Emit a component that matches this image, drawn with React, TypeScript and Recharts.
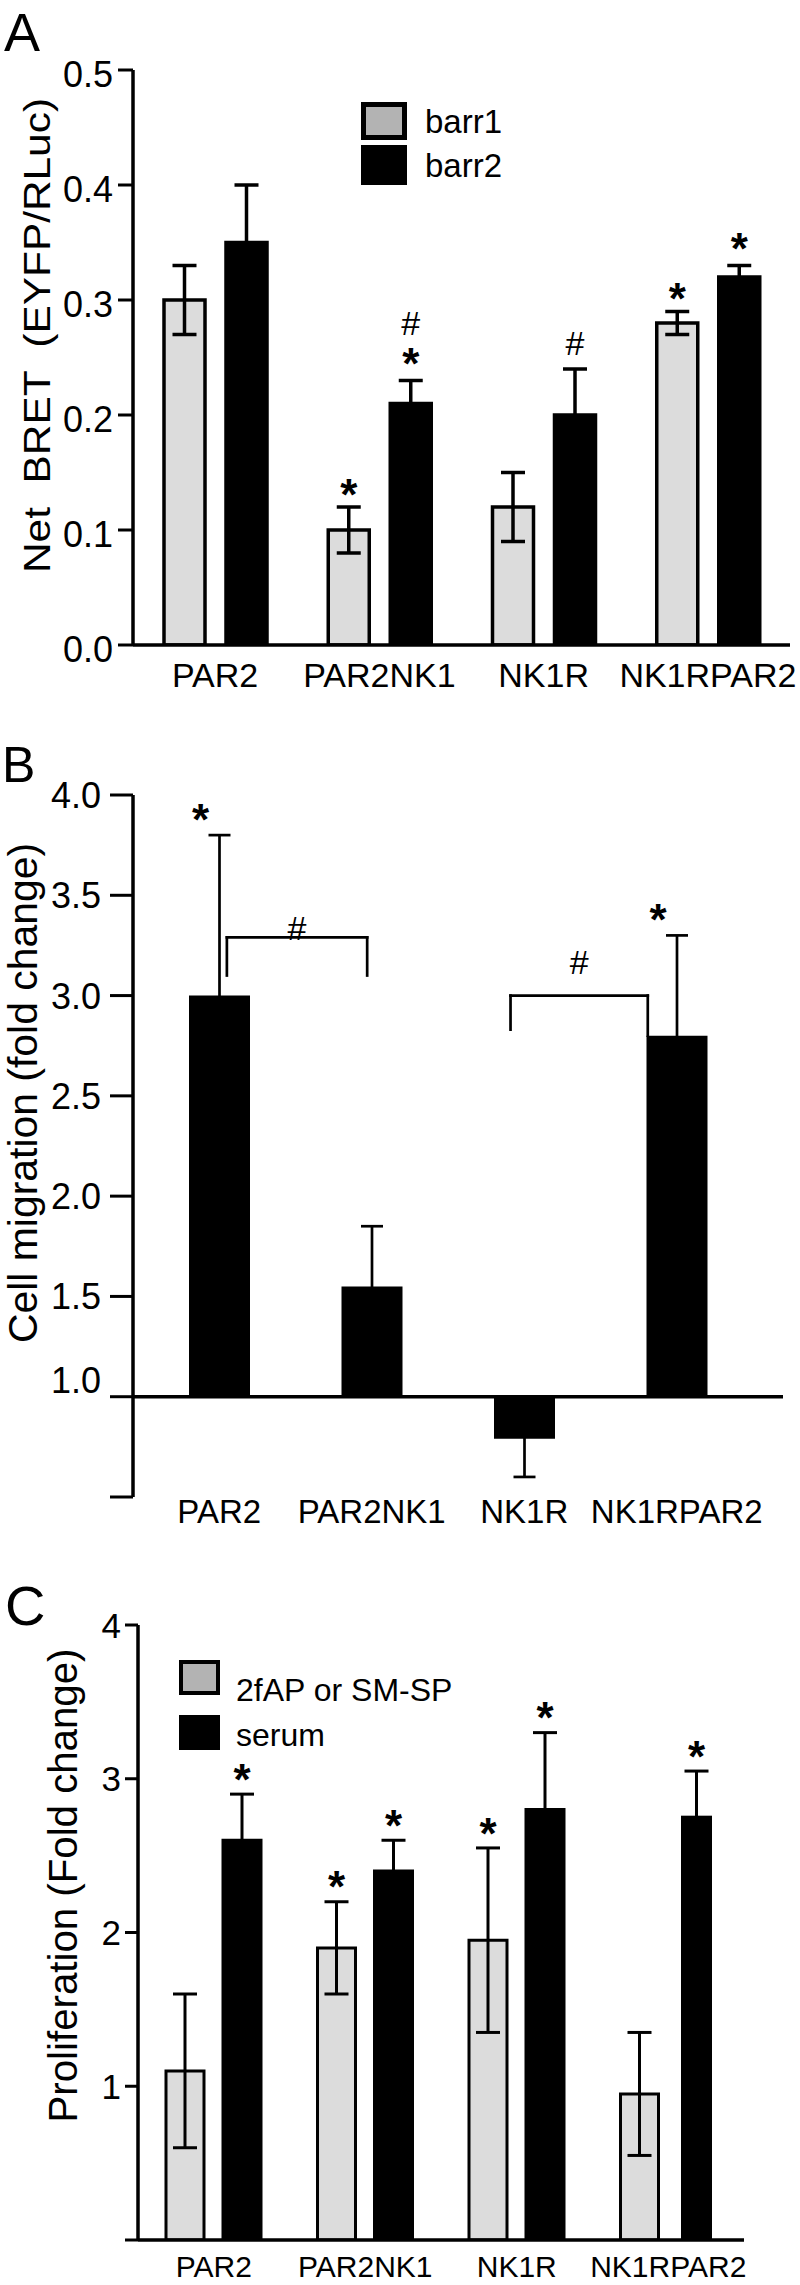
import React from "react";
import {
  BarChart,
  Bar,
  XAxis,
  YAxis,
  ErrorBar,
  LabelList,
  Legend,
  ReferenceLine,
  ReferenceDot,
} from "recharts";

const FONT = '"Liberation Sans", Arial, Helvetica, sans-serif';
const BAR_GRAY = "#dcdcdc";
const SWATCH_GRAY = "#b3b3b3";

// ---- panel A: BRET ----
const bretGroups = ["PAR2", "PAR2NK1", "NK1R", "NK1RPAR2"];
const barr1 = [0.3, 0.1, 0.12, 0.28];
const barr1Err = [0.03, 0.02, 0.03, 0.01];
const barr2 = [0.35, 0.21, 0.2, 0.32];
const barr2Err = [0.05, 0.02, 0.04, 0.01];
const barr1Marks = ["", "*", "", "*"];
const barr2Marks = ["", "#*", "#", "*"];
const bretTicks = [0, 0.1, 0.2, 0.3, 0.4, 0.5];

// ---- panel B: migration ----
const migrationGroups = ["PAR2", "PAR2NK1", "NK1R", "NK1RPAR2"];
const migration = [3.0, 1.55, 0.79, 2.8];
const migrationErr = [0.8, 0.3, 0.19, 0.5];
const migrationMarks = ["*", "", "", "*"];
const migrationTicks = [0.5, 1, 1.5, 2, 2.5, 3, 3.5, 4];
// brackets in slot units (0..4 across the four groups)
const brackets = [
  { from: 0.55, to: 1.47, top: 3.29, leftEnd: 3.1, rightEnd: 3.1, hashAt: 3.34 },
  { from: 2.41, to: 3.31, top: 3.0, leftEnd: 2.83, rightEnd: 2.8, hashAt: 3.17 },
];

// ---- panel C: proliferation ----
const prolifGroups = ["PAR2", "PAR2NK1", "NK1R", "NK1RPAR2"];
const agonist = [1.1, 1.9, 1.95, 0.95];
const agonistErr = [0.5, 0.3, 0.6, 0.4];
const serum = [2.6, 2.4, 2.8, 2.75];
const serumErr = [0.3, 0.2, 0.5, 0.3];
const agonistMarks = ["", "*", "*", ""];
const serumMarks = ["*", "*", "*", "*"];
const prolifTicks = [0, 1, 2, 3, 4];

const bretData = bretGroups.map((name, i) => ({
  name,
  barr1: barr1[i],
  barr1Err: barr1Err[i],
  barr2: barr2[i],
  barr2Err: barr2Err[i],
}));

const migrationData = migrationGroups.map((name, i) => ({
  name,
  slot: i + 0.5,
  change: migration[i] - 1,
  err: migrationErr[i],
}));

const prolifData = prolifGroups.map((name, i) => ({
  name,
  agonist: agonist[i],
  agonistErr: agonistErr[i],
  serum: serum[i],
  serumErr: serumErr[i],
}));

const STAR_SIZE = 44;
const HASH_SIZE = 34;

function glyph(ch: string, cx: number, cy: number, key: number) {
  if (ch === "*") {
    return (
      <text key={key} x={cx} y={cy + STAR_SIZE * 0.56} textAnchor="middle" fontSize={STAR_SIZE} fontWeight="bold" fill="#000">
        *
      </text>
    );
  }
  return (
    <text key={key} x={cx} y={cy + HASH_SIZE * 0.36} textAnchor="middle" fontSize={HASH_SIZE} fill="#000">
      {ch}
    </text>
  );
}

// significance marks stacked above the error bar cap
function markLabel(
  names: string[],
  values: number[],
  errs: number[],
  symbols: string[],
  base: number,
  gap: number,
  step: number,
  dx = 0
) {
  return function MarkLabel(props: any) {
    const vb = props.viewBox || props;
    const i = names.indexOf(String(props.value));
    const sym = i >= 0 ? symbols[i] : "";
    if (!sym || !vb) return null;
    const v = values[i] - base;
    const px = Math.abs(vb.height / v);
    const top = Math.min(vb.y, vb.y + vb.height);
    const capY = top - errs[i] * px;
    const cx = vb.x + vb.width / 2 + dx;
    const chars = sym.split("").reverse();
    return <g>{chars.map((c, k) => glyph(c, cx, capY - gap - k * step, k))}</g>;
  };
}

function yTick(fontSize: number, fmt: (v: number) => string, hidden: string[], drop = 0, lift: Record<string, number> = {}) {
  return function Tick(p: any) {
    const label = fmt(p.payload.value);
    if (hidden.includes(label)) return <g />;
    return (
      <text x={p.x} y={p.y + fontSize * 0.36 + drop - (lift[label] || 0)} textAnchor="end" fontSize={fontSize} fill="#000">
        {label}
      </text>
    );
  };
}

function yTitle(text: string, fontSize: number, cx: number, shift: number, length: number) {
  return function Title(p: any) {
    const vb = p.viewBox || { x: 0, y: 0, width: 0, height: 0 };
    const cy = vb.y + vb.height / 2 + shift;
    return (
      <text
        x={cx}
        y={cy}
        transform={`rotate(-90 ${cx} ${cy})`}
        textAnchor="middle"
        dominantBaseline="central"
        fontSize={fontSize}
        fill="#000"
        textLength={length}
        lengthAdjust="spacingAndGlyphs"
        style={{ whiteSpace: "pre" }}
      >
        {text}
      </text>
    );
  };
}

function swatchLegend(
  names: string[],
  colors: string[],
  cfg: { boxW: number; boxH: number[]; border: number; rowGap: number; textGap: number; fontSize: number; textDrop: number[] }
) {
  return function LegendBox() {
    return (
      <div style={{ fontFamily: FONT, color: "#000" }}>
        {names.map((n, i) => (
          <div key={n} style={{ display: "flex", alignItems: "center", marginBottom: i === 0 ? cfg.rowGap : 0 }}>
            <div
              style={{
                width: cfg.boxW,
                height: cfg.boxH[i],
                boxSizing: "border-box",
                border: `${cfg.border}px solid #000`,
                background: colors[i],
              }}
            />
            <span
              style={{
                marginLeft: cfg.textGap,
                fontSize: cfg.fontSize,
                lineHeight: 1,
                position: "relative",
                top: cfg.textDrop[i],
                whiteSpace: "nowrap",
              }}
            >
              {n}
            </span>
          </div>
        ))}
      </div>
    );
  };
}

const axisLine = { stroke: "#000", strokeWidth: 3.5 };
const tickLine = { stroke: "#000", strokeWidth: 3 };

function BretChart() {
  return (
    <BarChart width={800} height={700} data={bretData} margin={{ top: 70, right: 10, bottom: 25, left: 0 }} barGap={21}>
      <XAxis
        dataKey="name"
        height={30}
        interval={0}
        tickLine={false}
        tickSize={0}
        tickMargin={18}
        axisLine={axisLine}
        tick={{ fontSize: 34, fill: "#000" }}
      />
      <YAxis
        width={133}
        domain={[0, 0.5]}
        ticks={bretTicks}
        interval={0}
        allowDataOverflow
        axisLine={axisLine}
        tickLine={tickLine}
        tickSize={15}
        tickMargin={5}
        tick={yTick(36, (v) => v.toFixed(1), [], 4)}
        label={yTitle("Net  BRET  (EYFP/RLuc)", 36, 37, -22, 475)}
      />
      <Legend
        layout="vertical"
        align="center"
        verticalAlign="middle"
        wrapperStyle={{ left: 361, top: 102 }}
        content={swatchLegend(["barr1", "barr2"], [SWATCH_GRAY, "#000"], {
          boxW: 46,
          boxH: [38, 40],
          border: 5,
          rowGap: 5,
          textGap: 18,
          fontSize: 33,
          textDrop: [0, 0],
        })}
      />
      <Bar dataKey="barr1" name="barr1" barSize={41} fill={BAR_GRAY} stroke="#000" strokeWidth={3.5} isAnimationActive={false}>
        <ErrorBar dataKey="barr1Err" width={12} stroke="#000" strokeWidth={3.5} isAnimationActive={false} />
        <LabelList dataKey="name" content={markLabel(bretGroups, barr1, barr1Err, barr1Marks, 0, 22, 32)} />
      </Bar>
      <Bar dataKey="barr2" name="barr2" barSize={41} fill="#000" stroke="#000" strokeWidth={3.5} isAnimationActive={false}>
        <ErrorBar dataKey="barr2Err" width={12} stroke="#000" strokeWidth={3.5} isAnimationActive={false} />
        <LabelList dataKey="name" content={markLabel(bretGroups, barr2, barr2Err, barr2Marks, 0, 26, 32)} />
      </Bar>
    </BarChart>
  );
}

function MigrationChart() {
  const pad = { left: 10, right: 30 };
  return (
    <BarChart width={800} height={830} data={migrationData} margin={{ top: 75, right: 17, bottom: 23, left: 0 }}>
      <XAxis
        dataKey="name"
        height={30}
        interval={0}
        padding={pad}
        axisLine={false}
        tickLine={false}
        tickSize={0}
        tickMargin={3}
        tick={{ fontSize: 33, fill: "#000" }}
      />
      <XAxis xAxisId="n" dataKey="slot" type="number" domain={[0, 4]} allowDataOverflow padding={pad} hide />
      <YAxis
        width={133}
        domain={[-0.5, 3]}
        ticks={migrationTicks.map((t) => t - 1)}
        interval={0}
        allowDataOverflow
        axisLine={axisLine}
        tickLine={tickLine}
        tickSize={23}
        tickMargin={9}
        tick={yTick(36, (v) => (v + 1).toFixed(1), ["0.5"], 0, { "1.0": 17 })}
        label={yTitle("Cell migration (fold change)", 40, 23, -53, 500)}
      />
      <ReferenceLine y={0} stroke="#000" strokeWidth={3.5} />
      <Bar dataKey="change" barSize={61} fill="#000" isAnimationActive={false}>
        <ErrorBar dataKey="err" width={11} stroke="#000" strokeWidth={2.7} isAnimationActive={false} />
        <LabelList
          dataKey="name"
          content={markLabel(migrationGroups, migration, migrationErr, migrationMarks, 1, 25, 32, -19)}
        />
      </Bar>
      {brackets.map((b, i) => (
        <ReferenceLine
          key={`bl${i}`}
          xAxisId="n"
          segment={[
            { x: b.from, y: b.leftEnd - 1 },
            { x: b.from, y: b.top - 1 },
          ]}
          stroke="#000"
          strokeWidth={2.7}
          strokeLinecap="square"
        />
      ))}
      {brackets.map((b, i) => (
        <ReferenceLine
          key={`bt${i}`}
          xAxisId="n"
          segment={[
            { x: b.from, y: b.top - 1 },
            { x: b.to, y: b.top - 1 },
          ]}
          stroke="#000"
          strokeWidth={2.7}
          strokeLinecap="square"
        />
      ))}
      {brackets.map((b, i) => (
        <ReferenceLine
          key={`br${i}`}
          xAxisId="n"
          segment={[
            { x: b.to, y: b.top - 1 },
            { x: b.to, y: b.rightEnd - 1 },
          ]}
          stroke="#000"
          strokeWidth={2.7}
          strokeLinecap="square"
        />
      ))}
      {brackets.map((b, i) => (
        <ReferenceDot
          key={`bh${i}`}
          xAxisId="n"
          x={(b.from + b.to) / 2}
          y={b.hashAt - 1}
          r={0}
          fill="none"
          stroke="none"
          label={(p: any) => {
            const vb = p.viewBox;
            if (!vb) return null;
            return glyph("#", vb.x + vb.width / 2, vb.y + vb.height / 2, 0);
          }}
        />
      ))}
    </BarChart>
  );
}

const narrowSerumGroup = "NK1RPAR2";

function serumShape(p: any) {
  const narrow = p.payload && p.payload.name === narrowSerumGroup;
  const w = narrow ? 28 : p.width;
  const x = p.x + (p.width - w) / 2;
  return <rect x={x} y={p.y} width={w} height={p.height} fill="#000" stroke="#000" strokeWidth={3} />;
}

function ProlifChart() {
  return (
    <BarChart width={800} height={725} data={prolifData} margin={{ top: 65, right: 56, bottom: 15, left: 0 }} barGap={19}>
      <XAxis
        dataKey="name"
        height={30}
        interval={0}
        tickLine={false}
        tickSize={0}
        tickMargin={16}
        axisLine={axisLine}
        tick={{ fontSize: 30, fill: "#000" }}
      />
      <YAxis
        width={138}
        domain={[0, 4]}
        ticks={prolifTicks}
        interval={0}
        allowDataOverflow
        axisLine={axisLine}
        tickLine={tickLine}
        tickSize={13}
        tickMargin={4}
        tick={yTick(35, (v) => String(v), ["0"])}
        label={yTitle("Proliferation (Fold change)", 40, 63, -47, 474)}
      />
      <Legend
        layout="vertical"
        align="center"
        verticalAlign="middle"
        wrapperStyle={{ left: 179, top: 100 }}
        content={swatchLegend(["2fAP or SM-SP", "serum"], [SWATCH_GRAY, "#000"], {
          boxW: 41,
          boxH: [35, 35],
          border: 4,
          rowGap: 20,
          textGap: 16,
          fontSize: 32,
          textDrop: [12, 2],
        })}
      />
      <Bar dataKey="agonist" name="2fAP or SM-SP" barSize={38} fill={BAR_GRAY} stroke="#000" strokeWidth={3} isAnimationActive={false}>
        <ErrorBar dataKey="agonistErr" width={12} stroke="#000" strokeWidth={3} isAnimationActive={false} />
        <LabelList dataKey="name" content={markLabel(prolifGroups, agonist, agonistErr, agonistMarks, 0, 24, 32)} />
      </Bar>
      <Bar dataKey="serum" name="serum" barSize={38} fill="#000" shape={serumShape} isAnimationActive={false}>
        <ErrorBar dataKey="serumErr" width={12} stroke="#000" strokeWidth={3} isAnimationActive={false} />
        <LabelList dataKey="name" content={markLabel(prolifGroups, serum, serumErr, serumMarks, 0, 24, 32)} />
      </Bar>
    </BarChart>
  );
}

function PanelLetter({ letter, left, top, size }: { letter: string; left: number; top: number; size: number }) {
  return (
    <div style={{ position: "absolute", left, top, fontSize: size, lineHeight: `${size}px`, fontFamily: FONT, color: "#000" }}>
      {letter}
    </div>
  );
}

export default function App() {
  return (
    <div
      style={{
        position: "absolute",
        left: 0,
        top: 0,
        width: 800,
        height: 2285,
        background: "#fff",
        fontFamily: FONT,
        overflow: "hidden",
      }}
    >
      <div style={{ position: "absolute", left: 0, top: 0 }}>
        <BretChart />
      </div>
      <div style={{ position: "absolute", left: 0, top: 720 }}>
        <MigrationChart />
      </div>
      <div style={{ position: "absolute", left: 0, top: 1560 }}>
        <ProlifChart />
      </div>
      <PanelLetter letter="A" left={4} top={5} size={54} />
      <PanelLetter letter="B" left={2} top={740} size={50} />
      <PanelLetter letter="C" left={5} top={1578} size={56} />
    </div>
  );
}
